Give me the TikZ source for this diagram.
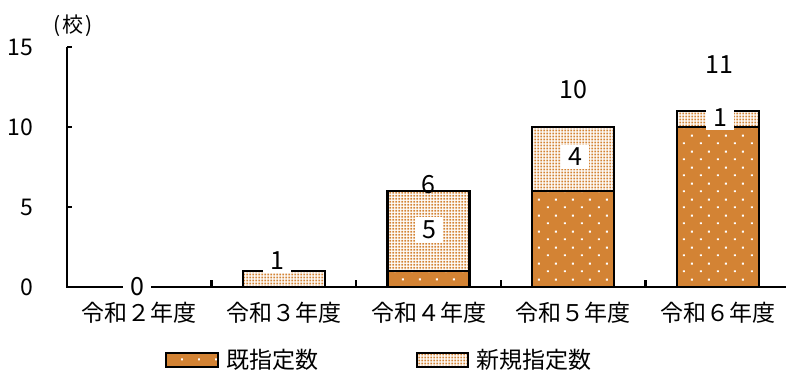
\documentclass[tikz,border=0pt]{standalone}
\usepackage{fontspec}
\setmainfont{Noto Sans CJK JP}
\usetikzlibrary{positioning,patterns.meta}

\definecolor{kizon}{RGB}{211,131,52}

% sparse white dots on orange, dense orange dots on white
\tikzdeclarepattern{name=kizondots, type=uncolored,
  bottom left={(0pt,0pt)}, top right={(17pt,16pt)}, tile size={(17pt,16pt)},
  code={\fill (3pt,3pt) rectangle (5pt,5pt);
        \fill (11.5pt,11pt) rectangle (13.5pt,13pt);}}
\tikzdeclarepattern{name=shinkidots, type=uncolored,
  bottom left={(0pt,0pt)}, top right={(3.3pt,3.3pt)}, tile size={(3.3pt,3.3pt)},
  code={\fill (0.6pt,0.6pt) rectangle (2.7pt,2.7pt);}}

\begin{document}
\begin{tikzpicture}[x=1pt,y=1pt,line width=2.4pt,
    lbl/.style={font=\fontsize{23}{23}\selectfont,inner sep=0pt},
    unitlbl/.style={font=\fontsize{21}{21}\selectfont,inner sep=0pt},
    val/.style={font=\fontsize{25}{25}\selectfont,inner xsep=7pt,inner ysep=3.5pt},
    kizonbar/.style={draw=black,preaction={fill=kizon},pattern=kizondots,pattern color=white},
    shinkibar/.style={draw=black,preaction={fill=white},pattern=shinkidots,pattern color=kizon}]
  \useasboundingbox (-67,-83) rectangle (719,287);

  % bars: category / existing / new
  \foreach \c/\k/\s in {2/0/1,3/1/5,4/6/4,5/10/1}{
    \pgfmathsetmacro\xc{(\c-0.5)*144.6}
    \ifnum\k>0
      \draw[kizonbar] (\xc-41,0) rectangle (\xc+41,16*\k);
    \fi
    \draw[shinkibar] (\xc-41,16*\k) rectangle (\xc+41,{16*(\k+\s)});
  }

  % axes
  \draw (0,240) -- (0,0) -- (719,0);
  \foreach \v in {0,5,10,15}{
    \draw (0,16*\v) -- (5,16*\v);
    \node[lbl,anchor=east] (y\v) at (-33,16*\v) {\v};
  }
  \foreach \i in {1,...,4} \draw (\i*144.6,0) -- (\i*144.6,7);
  \node[unitlbl] (unit) at (6,261) {(\kern2pt 校\kern2pt)};

  % category labels
  \foreach \c/\t in {1/２,2/３,3/４,4/５,5/６}
    \node[lbl] (cat\c) at ({(\c-0.5)*144.6},-26) {令和\t 年度};

  % data labels
  \node[val,fill=white] (v1) at (70,0) {0};
  \node[val,fill=white] (v2) at (210,26) {1};
  \node[val,fill=white] (v3s) at (362,57) {5};
  \node[val] (v3) at (361,102) {6};
  \node[val,fill=white] (v4s) at (508,130) {4};
  \node[val] (v4) at (506,197) {10};
  \node[val,fill=white] (v5s) at (653,169) {1};
  \node[val] (v5) at (652,222) {11};

  % legend
  \node[kizonbar,line width=2pt,minimum width=52pt,minimum height=14pt,inner sep=0pt] (legk) at (125,-73) {};
  \node[lbl,right=6pt of legk] (legkt) {既指定数};
  \node[shinkibar,line width=2pt,minimum width=51pt,minimum height=14pt,inner sep=0pt] (legs) at (375.5,-73) {};
  \node[lbl,right=6pt of legs] (legst) {新規指定数};
\end{tikzpicture}
\end{document}
